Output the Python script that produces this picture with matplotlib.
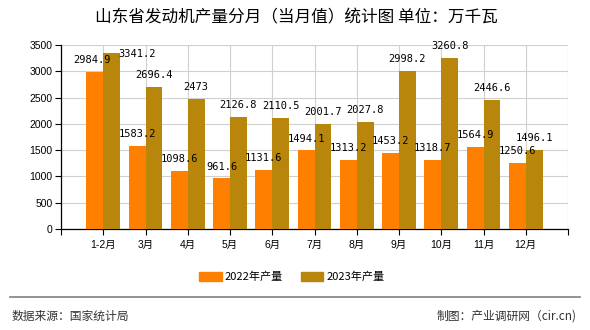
import matplotlib
matplotlib.use("Agg")
import matplotlib.pyplot as plt
from matplotlib.patches import Rectangle
from matplotlib.lines import Line2D
import numpy as np

plt.rcParams['font.family'] = ['Noto Sans CJK SC', 'DejaVu Sans']

categories = ["1-2月", "3月", "4月", "5月", "6月", "7月", "8月", "9月", "10月", "11月", "12月"]
values_2022 = [2984.9, 1583.2, 1098.6, 961.6, 1131.6, 1494.1, 1313.2, 1453.2, 1318.7, 1564.9, 1250.6]
values_2023 = [3341.2, 2696.4, 2473, 2126.8, 2110.5, 2001.7, 2027.8, 2998.2, 3260.8, 2446.6, 1496.1]
series_names = ["2022年产量", "2023年产量"]
yticks = [0, 500, 1000, 1500, 2000, 2500, 3000, 3500]
title = "山东省发动机产量分月（当月值）统计图 单位：万千瓦"
source_text = "数据来源：国家统计局"
credit_text = "制图：产业调研网（cir.cn)"

c2022 = "#FF8000"
c2023 = "#B8860B"

fig = plt.figure(figsize=(5.9, 3.3), dpi=100)
ax = fig.add_axes([61/590, 1-229/330, (568-61)/590, (229-45)/330])

x = np.arange(len(categories))
w = 0.4
ax.bar(x - w/2, values_2022, width=w, color=c2022, zorder=3)
ax.bar(x + w/2, values_2023, width=w, color=c2023, zorder=3)

ax.set_xlim(-1, len(categories))
ax.set_ylim(0, 3500)
ax.set_yticks(yticks)
ax.set_yticklabels([str(v) for v in yticks], fontsize=7.5, family=['Liberation Sans', 'Noto Sans CJK SC'])
ax.set_xticks(list(range(-1, len(categories) + 1)))
ax.set_xticklabels([""] + categories + [""], fontsize=7.5, family=['Liberation Sans', 'Noto Sans CJK SC'])
ax.tick_params(axis='both', length=4, width=0.8, color='black', pad=2)
ax.tick_params(axis='x', pad=4)

ax.grid(True, color='#d0d0d0', linewidth=0.8, zorder=0)
ax.set_axisbelow(True)
for s in ['top', 'right']:
    ax.spines[s].set_visible(False)
ax.spines['left'].set_linewidth(0.9)
ax.spines['bottom'].set_linewidth(0.9)
ax.axvline(len(categories), color='#d0d0d0', linewidth=0.8, zorder=0)

off22 = {0: (-2, 5)}
off23 = {0: (18, -4)}
lab_kw = dict(fontsize=7.5, ha='center', va='bottom', textcoords='offset points', zorder=5,
              family=['DejaVu Sans Mono'])
for i, v in enumerate(values_2022):
    ax.annotate(f"{v:g}", (x[i] - w/2, v), xytext=off22.get(i, (0, 5)), **lab_kw)
for i, v in enumerate(values_2023):
    ax.annotate(f"{v:g}", (x[i] + w/2, v), xytext=off23.get(i, (0, 5)), **lab_kw)

fig.text(296/590, 1-18/330, title, fontsize=12, ha='center', va='center')

handles = [Rectangle((0, 0), 1, 1, color=c2022), Rectangle((0, 0), 1, 1, color=c2023)]
fig.legend(handles, series_names, loc='center', bbox_to_anchor=(292/590, 1-277/330),
           ncol=2, frameon=False, fontsize=8, handlelength=2.0, handleheight=0.8,
           handletextpad=0.3, columnspacing=1.6)

fig.add_artist(Line2D([10/590, 580/590], [1-297/330, 1-297/330], color='#808080', linewidth=1.2))
fig.text(12/590, 1-316/330, source_text, fontsize=8.5, ha='left', va='center', color='#333333')
fig.text(577/590, 1-316/330, credit_text, fontsize=8.5, ha='right', va='center', color='#333333')

fig.savefig("out.png", dpi=100)
